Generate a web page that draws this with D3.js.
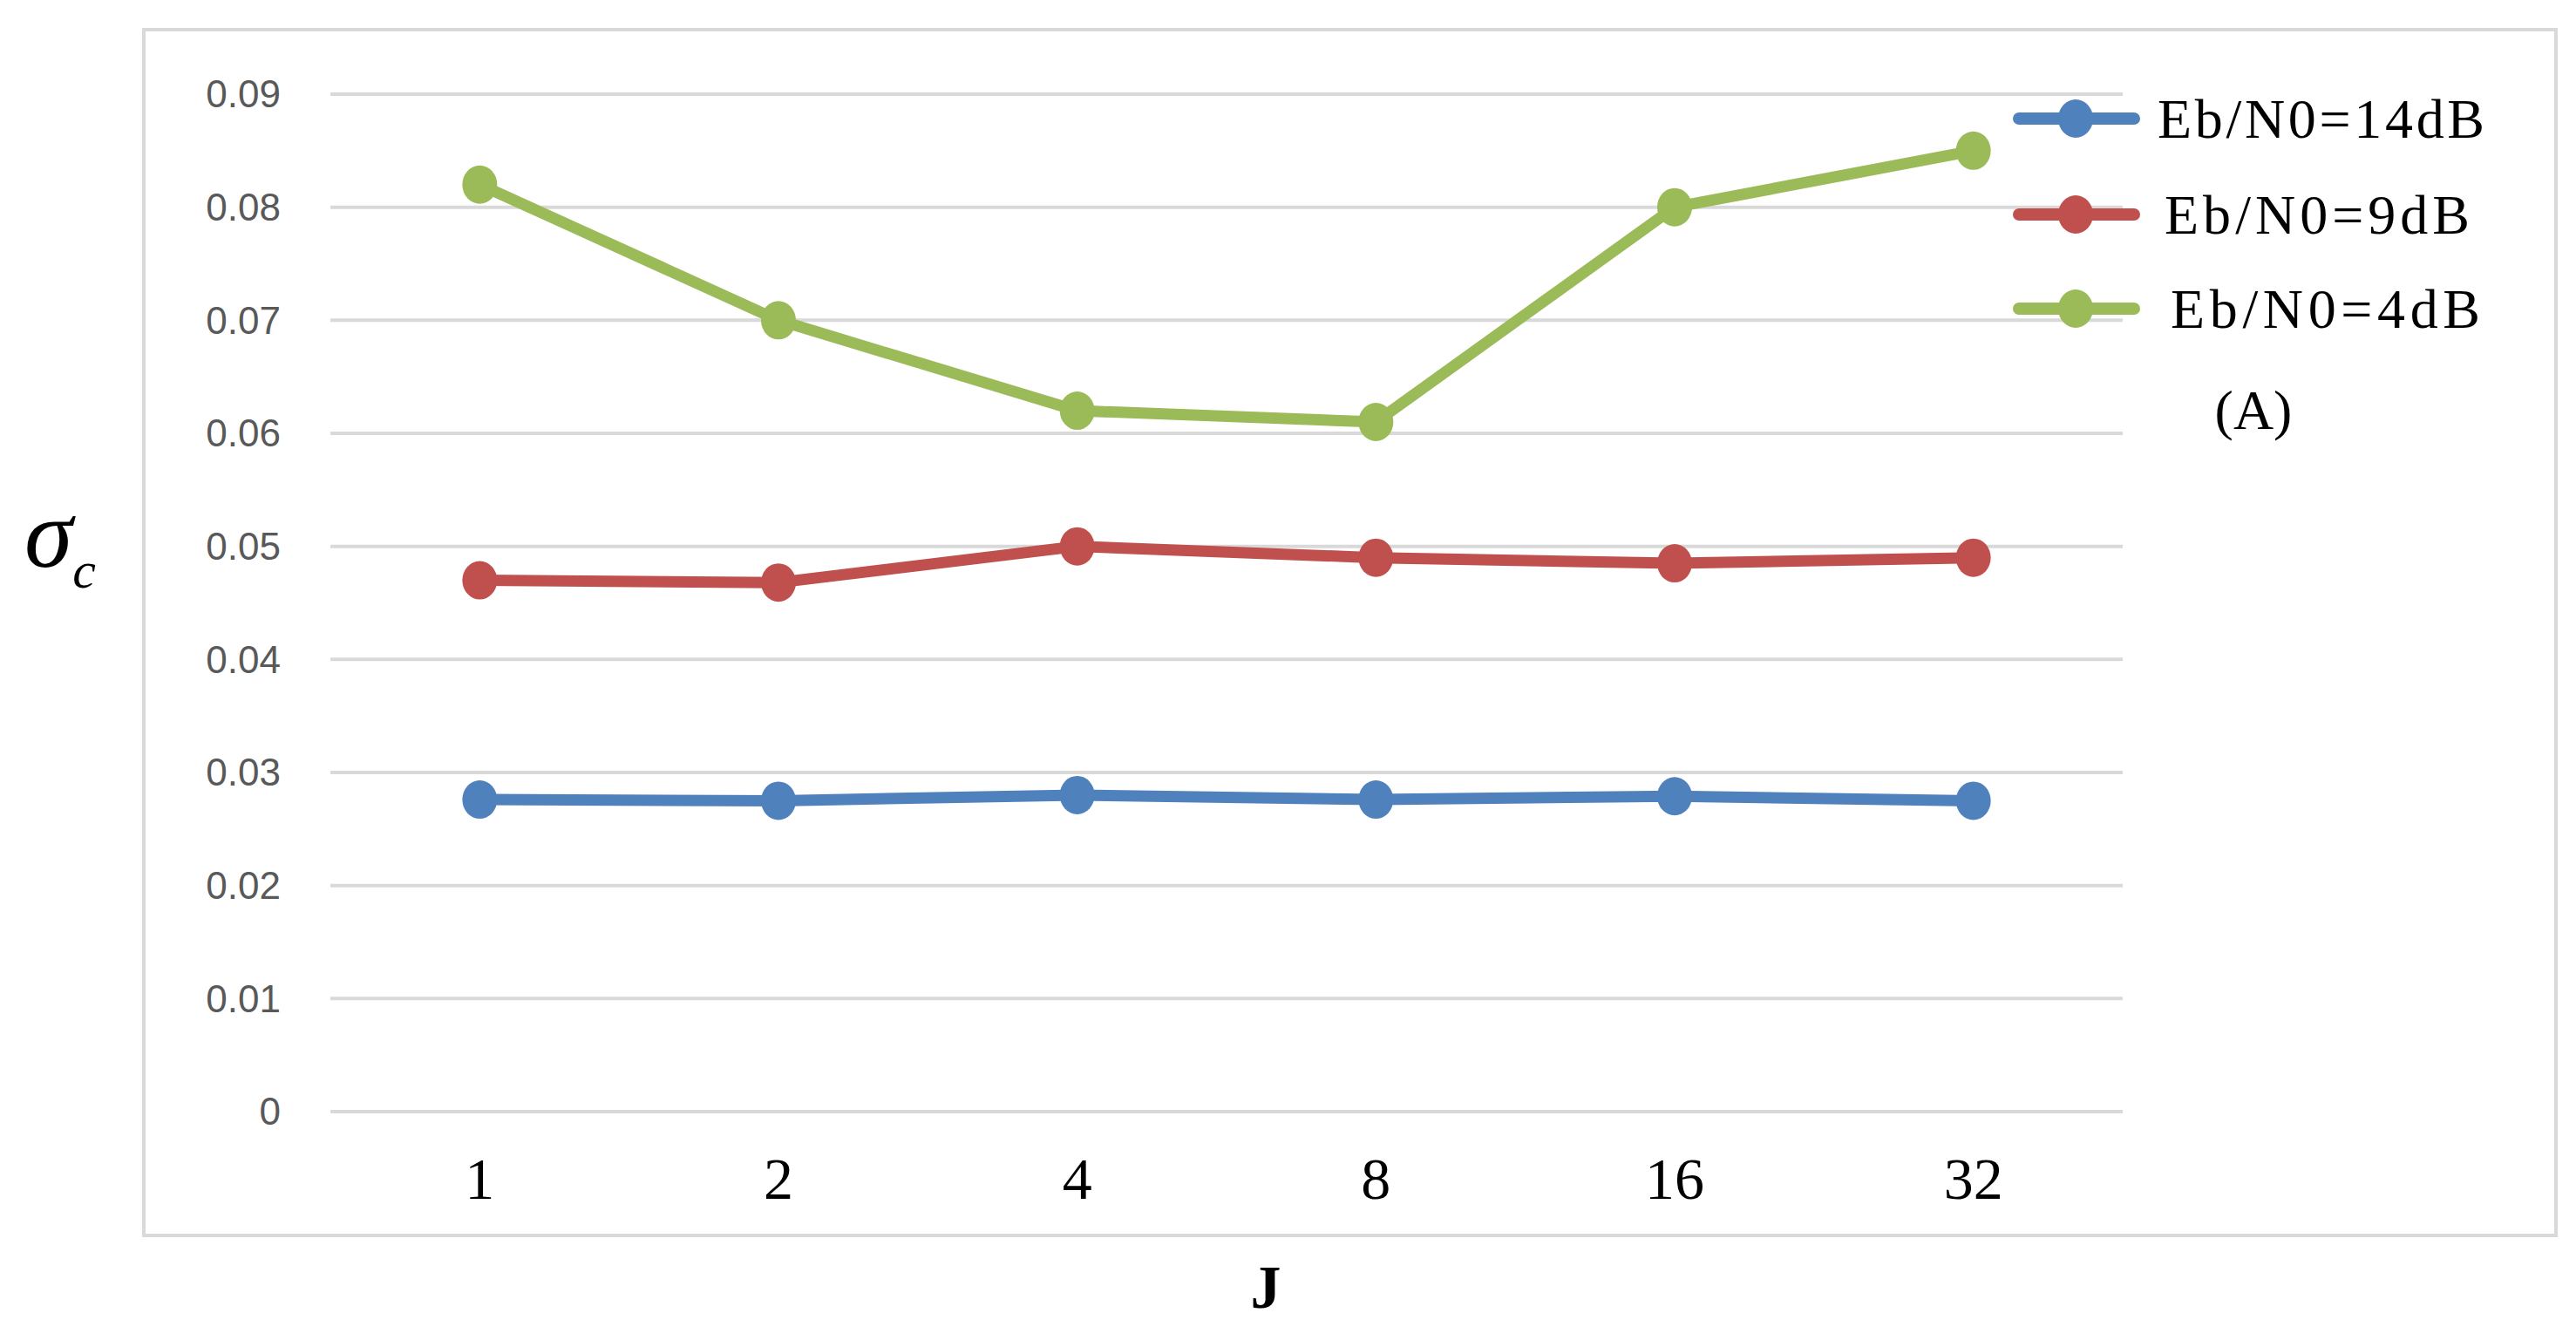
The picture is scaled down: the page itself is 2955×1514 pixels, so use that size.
<!DOCTYPE html><html><head><meta charset="utf-8"><script src="https://cdn.jsdelivr.net/npm/d3@7"></script>
<style>body{margin:0;background:#fff}</style></head><body><svg id="c" width="2955" height="1514"></svg>
<script>
const categories=["1","2","4","8","16","32"];
const seriesNames=["Eb/N0=14dB","Eb/N0=9dB","Eb/N0=4dB"];
const seriesColors=["#4f81bd","#c0504d","#9bbb59"];
const s14=[0.0276,0.0275,0.0280,0.0276,0.0279,0.0275];
const s9=[0.0470,0.0468,0.0500,0.0490,0.0485,0.0490];
const s4=[0.0820,0.0700,0.0620,0.0610,0.0800,0.0850];
const yTicks=[0,0.01,0.02,0.03,0.04,0.05,0.06,0.07,0.08,0.09];
const series=[s14,s9,s4];
const svg=d3.select("#c");
svg.append("rect").attr("x",165).attr("y",34).attr("width",2767).attr("height",1383).attr("fill","#fff").attr("stroke","#d9d9d9").attr("stroke-width",4);
const x=d3.scaleBand().domain(categories).range([379,2435]);
const y=d3.scaleLinear().domain([0,0.09]).range([1275,108]);
const g=svg.append("g");
g.selectAll("line.grid").data(yTicks).join("line").attr("x1",379).attr("x2",2435).attr("y1",d=>y(d)).attr("y2",d=>y(d)).attr("stroke","#d9d9d9").attr("stroke-width",4);
g.selectAll("text.yt").data(yTicks).join("text").attr("x",322).attr("y",d=>y(d)).attr("dy","0.35em").attr("text-anchor","end").attr("font-family","Liberation Sans").attr("font-size",44).attr("fill","#595959").text(d=>d===0?"0":d.toFixed(2));
g.selectAll("text.xt").data(categories).join("text").attr("x",d=>x(d)+x.bandwidth()/2).attr("y",1375).attr("text-anchor","middle").attr("font-family","Liberation Serif").attr("font-size",68).attr("fill","#000").text(d=>d);
svg.append("text").attr("x",1452).attr("y",1500).attr("text-anchor","middle").attr("font-family","Liberation Serif").attr("font-weight","bold").attr("font-size",70).text("J");
const yl=svg.append("text").attr("x",28).attr("y",650).attr("font-family","Liberation Serif").attr("font-style","italic");
yl.append("tspan").attr("font-size",112).text("σ");
yl.append("tspan").attr("font-size",60).attr("dy",24).text("c");
const line=d3.line().x((d,i)=>x(categories[i])+x.bandwidth()/2).y(d=>y(d));
series.forEach((s,k)=>{
  svg.append("path").attr("d",line(s)).attr("fill","none").attr("stroke",seriesColors[k]).attr("stroke-width",13).attr("stroke-linejoin","round").attr("stroke-linecap","round");
  svg.selectAll(null).data(s).join("ellipse").attr("cx",(d,i)=>x(categories[i])+x.bandwidth()/2).attr("cy",d=>y(d)).attr("rx",20).attr("ry",22).attr("fill",seriesColors[k]);
});
const ly=[136,246,354];
const lx=[2475,2483,2490];
seriesNames.forEach((n,k)=>{
  svg.append("line").attr("x1",2316).attr("x2",2448).attr("y1",ly[k]).attr("y2",ly[k]).attr("stroke",seriesColors[k]).attr("stroke-width",14).attr("stroke-linecap","round");
  svg.append("ellipse").attr("cx",2381).attr("cy",ly[k]).attr("rx",20).attr("ry",22).attr("fill",seriesColors[k]);
  svg.append("text").attr("x",lx[k]).attr("y",ly[k]).attr("dy","0.35em").attr("font-family","Liberation Serif").attr("font-size",64).attr("textLength",[375,350,355][k]).text(n);
});
svg.append("text").attr("x",2585).attr("y",470).attr("dy","0.35em").attr("text-anchor","middle").attr("font-family","Liberation Serif").attr("font-size",64).text("(A)");
</script></body></html>
